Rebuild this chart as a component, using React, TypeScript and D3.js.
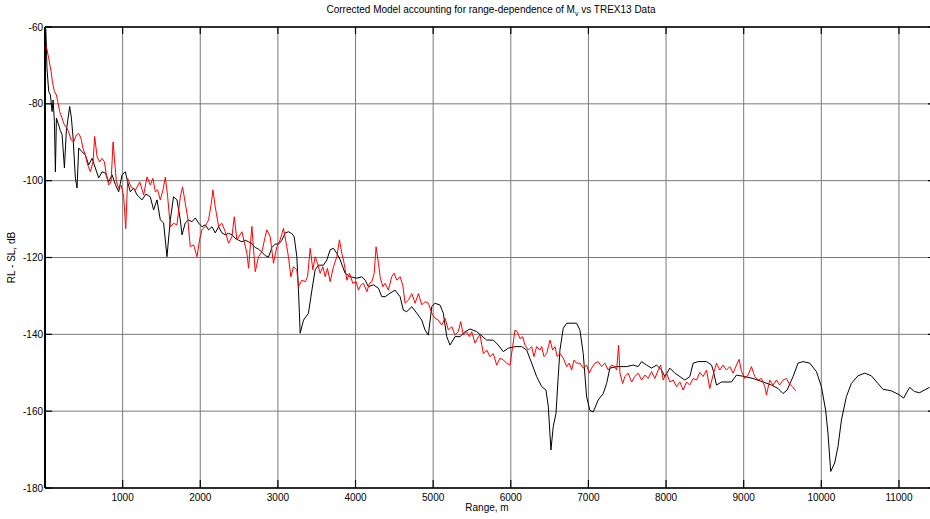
import * as d3 from "d3";

// range (m), level (dB)
const modelCurve: [number, number][] = [
  [10, -60.5], [15, -63], [25, -70.7], [48, -76.8], [70, -77.7], [91, -82], [104, -79], [121, -84.6],
  [134, -97.7], [147, -83.7], [176, -85.5], [198, -87], [220, -88], [250, -96.7], [275, -87], [318, -80.7],
  [340, -83.7], [362, -88.9], [391, -99.3], [413, -101.9], [434, -91.5], [477, -92.5], [520, -93.3],
  [562, -95.9], [606, -94.2], [649, -96.7], [691, -99.3], [735, -97.7], [777, -98], [820, -100.3],
  [864, -98.5], [906, -101], [949, -102.9], [992, -98.5], [1035, -97.7], [1064, -100.3], [1099, -102.9],
  [1142, -101.9], [1185, -103.7], [1250, -105], [1300, -103.5], [1356, -104.2], [1399, -107.6],
  [1443, -105], [1485, -110.2], [1528, -111], [1571, -119.8], [1614, -110.2], [1656, -104.2],
  [1700, -105], [1743, -110.2], [1765, -114.1], [1807, -111], [1849, -110.2], [1893, -110.7],
  [1936, -109.7], [1978, -111], [2022, -112], [2064, -111.5], [2107, -112.8], [2151, -112],
  [2193, -113.6], [2236, -112], [2279, -113.6], [2322, -114.1], [2364, -113.7], [2408, -114.1],
  [2450, -115], [2493, -115.5], [2537, -115.9], [2579, -115.5], [2621, -115.9], [2665, -116.4],
  [2708, -117.4], [2750, -117.8], [2794, -118.6], [2836, -119.5], [2879, -119.9], [2923, -117.4],
  [2965, -116.5], [3008, -116.5], [3052, -115.5], [3094, -113.6], [3136, -113.3], [3180, -113.8],
  [3210, -114.6], [3244, -119.8], [3265, -128.5], [3287, -139.7], [3330, -136.3], [3394, -134.5],
  [3438, -128.5], [3480, -123.2], [3523, -122], [3587, -122], [3631, -120.6], [3673, -118],
  [3716, -117.6], [3759, -118.9], [3802, -120.6], [3866, -124.1], [3931, -125], [4017, -125.4],
  [4081, -125], [4124, -125.9], [4166, -127.6], [4230, -127.1], [4295, -128], [4338, -130.2],
  [4381, -130.2], [4445, -129.3], [4510, -128.5], [4574, -130.2], [4616, -133.7], [4660, -134.1],
  [4725, -132.8], [4789, -134.5], [4853, -136.3], [4896, -138.9], [4938, -140.2], [4982, -132.8],
  [5024, -131.9], [5089, -132.4], [5131, -134.5], [5175, -140.6], [5217, -142.8], [5282, -140.6],
  [5346, -140.6], [5411, -139.3], [5475, -138.6], [5561, -139.3], [5690, -141.5], [5775, -141.5],
  [5839, -142.8], [5903, -144.5], [5968, -143.6], [6054, -143.2], [6140, -143.2], [6205, -144.1],
  [6269, -147.5], [6333, -151], [6398, -153.6], [6453, -154.5], [6483, -158.8], [6517, -170.1],
  [6547, -164], [6582, -160.6], [6611, -151], [6633, -144.1], [6676, -138.4], [6720, -137.1],
  [6848, -137.1], [6891, -138.9], [6933, -145], [6977, -156.3], [7019, -159.8], [7062, -160.2],
  [7126, -157.1], [7191, -155.4], [7234, -152.8], [7277, -148.8], [7363, -148.4], [7492, -148.4],
  [7577, -148], [7641, -148.4], [7685, -147.1], [7749, -148], [7813, -148.8], [7878, -148],
  [7942, -149.3], [7985, -151], [8049, -148.8], [8113, -150.1], [8178, -151], [8242, -151.9],
  [8306, -151], [8349, -147.5], [8413, -147.1], [8521, -147.1], [8586, -148], [8606, -149.3],
  [8650, -153.2], [8714, -152.4], [8843, -152.4], [8907, -150.6], [9014, -151], [9121, -151.5],
  [9250, -152.4], [9358, -153.2], [9443, -154.1], [9507, -155.4], [9559, -154.5], [9636, -151],
  [9700, -147.5], [9765, -147.1], [9851, -147.5], [9937, -149.7], [10001, -153.6], [10056, -159.8],
  [10086, -165.8], [10121, -175.7], [10172, -173.5], [10215, -169.2], [10259, -162.3], [10323, -156.2],
  [10387, -152.8], [10472, -150.8], [10559, -150.1], [10645, -150.8], [10730, -152.8], [10794, -154.3],
  [10902, -154.7], [11009, -155.8], [11060, -156.6], [11137, -153.8], [11201, -154.9], [11266, -155.2],
  [11330, -154.5], [11394, -153.8],
];

const trexCurve: [number, number][] = [
  [18, -65], [48, -68.2], [79, -71.6], [95, -74.2], [121, -76.8], [147, -77.7], [164, -79.4],
  [189, -82], [220, -83.8], [250, -85.5], [285, -86.4], [318, -88.1], [336, -89.4], [369, -89.9],
  [404, -88.1], [434, -87.7], [464, -89], [490, -91.6], [520, -93.3], [550, -95.9], [585, -97.7],
  [619, -95.1], [640, -88.5], [671, -93.8], [704, -95.1], [735, -94.2], [765, -95.1], [790, -98.5],
  [820, -101.1], [851, -100.3], [877, -89.9], [894, -94.2], [920, -100.3], [949, -102], [980, -101.2],
  [1013, -104], [1040, -112.5], [1065, -99.4], [1108, -101.6], [1164, -102.5], [1220, -100.3],
  [1271, -103.7], [1314, -99], [1356, -101.1], [1390, -99.4], [1421, -102.9], [1450, -102.4],
  [1485, -105], [1520, -102.4], [1550, -99.1], [1580, -104.2], [1614, -112], [1656, -111.1],
  [1700, -111.5], [1743, -104.2], [1772, -101.6], [1807, -105.9], [1837, -109.4], [1871, -117.2],
  [1914, -116.7], [1958, -119.8], [1991, -115.4], [2022, -112.8], [2064, -111.9], [2107, -110.2],
  [2142, -105.9], [2163, -102.4], [2193, -106.8], [2236, -111.9], [2279, -111.1], [2322, -113.3],
  [2364, -116.3], [2408, -114.6], [2438, -109.4], [2472, -115.4], [2537, -113.3], [2601, -118.9],
  [2622, -122.8], [2665, -111.9], [2708, -123.7], [2750, -119.8], [2794, -118.5], [2836, -114.6],
  [2858, -112.8], [2901, -114.6], [2943, -121.5], [2987, -117.2], [3029, -115.4], [3072, -112.4],
  [3107, -116.3], [3136, -119.8], [3167, -125], [3201, -122.4], [3244, -123.2], [3265, -127.6],
  [3309, -125.9], [3352, -126.3], [3382, -125], [3416, -117.6], [3450, -123.2], [3480, -119.8],
  [3510, -121.5], [3544, -124.1], [3579, -122.4], [3609, -125], [3638, -122.8], [3673, -126.3],
  [3716, -122.4], [3759, -119.8], [3793, -115.4], [3824, -118.9], [3853, -121.5], [3888, -125.9],
  [3922, -124.1], [3965, -126.7], [4008, -126.3], [4037, -128.5], [4068, -127.2], [4102, -126.7],
  [4146, -128.9], [4179, -126.7], [4210, -126.3], [4240, -124.1], [4265, -117.2], [4295, -121.5],
  [4317, -125], [4351, -127.6], [4381, -126.7], [4423, -128.5], [4467, -125], [4497, -124.1],
  [4531, -125.9], [4574, -125], [4609, -127.2], [4638, -131.9], [4681, -131.1], [4725, -129.4],
  [4767, -131.9], [4810, -129.4], [4853, -132.3], [4896, -131.5], [4938, -131.9], [4982, -134.5],
  [5024, -135.8], [5067, -136.3], [5111, -137.6], [5153, -135.8], [5196, -138.9], [5239, -138],
  [5282, -140.2], [5324, -139.3], [5355, -136.7], [5389, -140.2], [5432, -139.3], [5466, -140.6],
  [5497, -139.3], [5539, -142.3], [5582, -140.6], [5604, -140.2], [5646, -145], [5690, -144.1],
  [5732, -145.8], [5775, -145], [5818, -148], [5861, -146.2], [5903, -146.7], [5947, -147.5],
  [5989, -148], [6024, -143.2], [6054, -138.9], [6084, -139.3], [6118, -141.1], [6153, -140.6],
  [6183, -142.8], [6225, -144.1], [6269, -143.2], [6298, -145.8], [6333, -143.2], [6376, -144.1],
  [6398, -143.2], [6428, -145.8], [6462, -145], [6505, -141.5], [6539, -144.1], [6569, -143.2],
  [6598, -145.8], [6633, -145], [6676, -146.2], [6720, -148.4], [6753, -147.5], [6784, -149.3],
  [6814, -146.7], [6848, -147.5], [6891, -147.5], [6933, -148.8], [6977, -148], [7010, -150.1],
  [7041, -148.8], [7084, -147.5], [7126, -147.1], [7170, -148.4], [7212, -147.5], [7255, -149.3],
  [7298, -148], [7340, -148.4], [7363, -149.3], [7389, -142.8], [7406, -150.1], [7441, -152.8],
  [7470, -151], [7512, -150.1], [7556, -152.4], [7598, -151], [7641, -150.1], [7685, -151.9],
  [7727, -150.6], [7770, -151.5], [7813, -149.7], [7856, -151.5], [7899, -149.3], [7930, -148],
  [7963, -151.9], [8006, -150.1], [8049, -152.4], [8092, -151.9], [8135, -153.6], [8178, -152.4],
  [8220, -154.5], [8264, -152.4], [8306, -153.2], [8349, -151.5], [8393, -151.9], [8435, -149.9],
  [8477, -151], [8521, -149.3], [8563, -154.1], [8606, -150.6], [8650, -147.5], [8692, -149.3],
  [8735, -148], [8778, -149.3], [8821, -148.4], [8864, -150.1], [8907, -148], [8941, -146.5],
  [8972, -149.7], [9014, -151.5], [9057, -150.6], [9100, -148.4], [9143, -151], [9185, -151.9],
  [9229, -151.5], [9272, -153.6], [9293, -155.8], [9336, -151.9], [9378, -153.2], [9422, -151.9],
  [9464, -153.2], [9507, -151.9], [9551, -151.5], [9584, -152.8], [9628, -153.6], [9670, -154.7],
];

const xTicks = [1000, 2000, 3000, 4000, 5000, 6000, 7000, 8000, 9000, 10000, 11000];
const yTicks = [-180, -160, -140, -120, -100, -80, -60];

const W = 930;
const H = 519;
const m = { left: 45, right: 0, top: 27, bottom: 31 };

export default function App() {
  const x = d3.scaleLinear().domain([0, 11400]).range([m.left, W - m.right]);
  const y = d3.scaleLinear().domain([-180, -60]).range([H - m.bottom, m.top]);

  const line = d3.line<[number, number]>()
    .x(d => x(d[0]))
    .y(d => y(d[1]));

  const font = "'Liberation Sans', Arial, sans-serif";
  const x0 = m.left, x1 = W - m.right, y0 = m.top, y1 = H - m.bottom;

  return (
    <svg width={W} height={H} style={{ position: "absolute", left: 0, top: 0, background: "#fff" }}
      fontFamily={font}>
      {/* grid */}
      <g stroke="#7a7a7a" strokeWidth={1}>
        {xTicks.map(t => <line key={"gx" + t} x1={x(t)} x2={x(t)} y1={y0} y2={y1} />)}
        {yTicks.map(t => <line key={"gy" + t} x1={x0} x2={x1} y1={y(t)} y2={y(t)} />)}
      </g>

      <path d={line(modelCurve) || ""} fill="none" stroke="#000" strokeWidth={1} />
      <path d={line(trexCurve) || ""} fill="none" stroke="#ff0000" strokeWidth={1} />

      {/* box + ticks */}
      <g stroke="#000" fill="none">
        <line x1={x0} x2={x0} y1={y0} y2={y1} strokeWidth={2} />
        <line x1={x0} x2={x1} y1={y0} y2={y0} strokeWidth={1.5} />
        <line x1={x0} x2={x1} y1={y1} y2={y1} strokeWidth={1.5} />
        {xTicks.map(t => (
          <g key={"tx" + t}>
            <line x1={x(t)} x2={x(t)} y1={y1} y2={y1 - 8} strokeWidth={1.2} />
            <line x1={x(t)} x2={x(t)} y1={y0} y2={y0 + 7} strokeWidth={1.2} />
          </g>
        ))}
        {yTicks.map(t => (
          <g key={"ty" + t}>
            <line x1={x0} x2={x0 + 7} y1={y(t)} y2={y(t)} strokeWidth={1.2} />
            <line x1={x1} x2={x1 - 2} y1={y(t)} y2={y(t)} strokeWidth={1.2} />
          </g>
        ))}
      </g>

      <g fontSize={10} fill="#000">
        {xTicks.map(t => (
          <text key={"lx" + t} x={x(t)} y={y1 + 13} textAnchor="middle">{t}</text>
        ))}
        {yTicks.map(t => (
          <text key={"ly" + t} x={x0 - 2} y={y(t) + 3.5} textAnchor="end">{t}</text>
        ))}
        <text x={487} y={511} textAnchor="middle">Range, m</text>
        <text transform={`translate(15,${(y0 + y1) / 2}) rotate(-90)`} textAnchor="middle">RL - SL, dB</text>
        <text x={491} y={13} textAnchor="middle" fontSize={10}>
          Corrected Model accounting for range-dependence of M
          <tspan fontSize={7} dy={3}>v</tspan>
          <tspan dy={-3}> vs TREX13 Data</tspan>
        </text>
      </g>
    </svg>
  );
}
